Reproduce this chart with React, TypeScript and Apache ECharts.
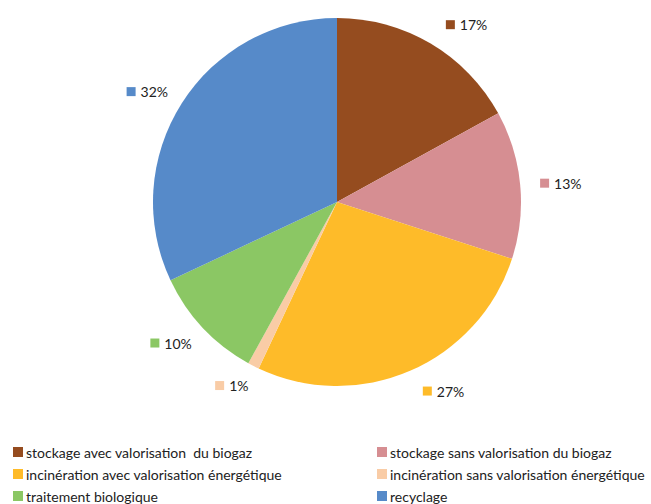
import React, { useEffect, useRef } from "react";
import * as echarts from "echarts";

const categories = [
  "stockage avec valorisation  du biogaz",
  "stockage sans valorisation du biogaz",
  "incinération avec valorisation énergétique",
  "incinération sans valorisation énergétique",
  "traitement biologique",
  "recyclage",
];
const values = [17, 13, 27, 1, 10, 32];
const colors = ["#954C1F", "#D68E92", "#FEBB29", "#F9CCA6", "#8BC764", "#568AC9"];
const leftLegend = [categories[0], categories[2], categories[4]];
const rightLegend = [categories[1], categories[3], categories[5]];

const FONT = "Lato, 'Open Sans', sans-serif";

export default function App() {
  const ref = useRef<HTMLDivElement>(null);
  useEffect(() => {
    if (!ref.current) return;
    const chart = echarts.init(ref.current, null, { renderer: "svg" });
    const data = categories.map((name, i) => ({
      name,
      value: values[i],
      itemStyle: { color: colors[i] },
      labelLine: { show: false, length: i === 1 ? 16 : 22, length2: i >= 3 ? -7 : 2 },
      label: {
        formatter: "{m|}{v|" + values[i] + "%}",
        rich: {
          m: { width: 9, height: 9, backgroundColor: colors[i] },
          v: { fontSize: 14, fontFamily: FONT, color: "#222", padding: [0, 0, 0, 5] },
        },
      },
    }));
    const legendCommon = {
      orient: "vertical" as const,
      top: 445,
      height: 100,
      padding: 0,
      icon: "rect",
      itemWidth: 10,
      itemHeight: 10,
      itemGap: 8,
      selectedMode: false,
      textStyle: { fontSize: 14, fontFamily: FONT, color: "#222", padding: [0, 0, 0, -2] },
    };
    chart.setOption({
      animation: false,
      backgroundColor: "#fff",
      legend: [
        { ...legendCommon, left: 13, data: leftLegend },
        { ...legendCommon, left: 377, data: rightLegend },
      ],
      series: [
        {
          type: "pie",
          center: [337, 202],
          radius: 184,
          startAngle: 90,
          clockwise: true,
          data,
          label: { show: true, position: "outside", distanceToLabelLine: 2 },
          labelLine: { show: false, length: 22, length2: 2 },
          emphasis: { disabled: true },
        },
      ],
    });
    return () => chart.dispose();
  }, []);
  return (
    <div
      ref={ref}
      style={{ position: "fixed", left: 0, top: 0, width: 651, height: 504 }}
    />
  );
}
